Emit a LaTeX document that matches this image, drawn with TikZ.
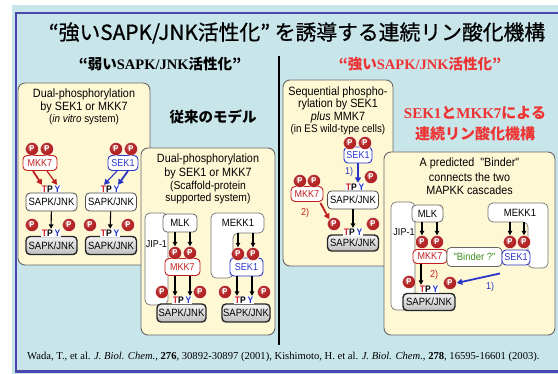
\documentclass[tikz,border=0pt]{standalone}
\usepackage{fontspec}
\usetikzlibrary{arrows.meta,shadings}
\setmainfont{Liberation Sans}
\newfontfamily\nsans[FakeStretch=0.9]{Liberation Sans}
\newfontfamily\cjk{Noto Sans CJK JP}
\newfontfamily\cjkt[FakeBold=0.8]{Noto Sans CJK JP}
\newfontfamily\tms{Liberation Serif}
\definecolor{bgblue}{HTML}{C8E5EA}
\definecolor{framec}{HTML}{4A48B0}
\definecolor{cream}{HTML}{FFF8D5}
\definecolor{mred}{HTML}{C01E1E}
\definecolor{sblue}{HTML}{2A35C8}
\definecolor{pred}{HTML}{B01818}
\definecolor{tred}{HTML}{D42020}
\definecolor{tblue}{HTML}{2535C0}
\definecolor{bgreen}{HTML}{3C8C1C}
\definecolor{rtext}{HTML}{EE3333}
\pgfdeclareradialshading{pballshade}{\pgfpoint{-9bp}{9bp}}{color(0bp)=(pred!35!white); color(12bp)=(pred!90!white); color(30bp)=(pred); color(50bp)=(pred!80!black)}
\newcommand{\TPYtext}{\textcolor{tred}{T}P\hspace{1.8pt}\textcolor{tblue}{Y}}
\tikzset{
  panel/.style={draw=black!60, line width=0.9pt, fill=cream, rounded corners=7pt},
  desc/.style={font=\nsans\fontsize{12}{13}\selectfont, inner sep=0pt},
  descs/.style={font=\nsans\fontsize{11}{12}\selectfont, inner sep=0pt},
  kbox/.style={rounded corners=4pt, fill=white, font=\nsans\fontsize{10}{11}\selectfont, inner sep=0pt, minimum height=15pt, line width=0.9pt},
  mkk/.style={kbox, draw=mred, text=mred},
  sek/.style={kbox, draw=sblue, text=sblue},
  sapk/.style={kbox, draw=black!70, line width=0.8pt, minimum width=51pt, minimum height=18pt, font=\nsans\fontsize{10.5}{11}\selectfont},
  sapkp/.style={sapk, draw=black!85, line width=1.4pt, top color=gray!10, bottom color=gray!50},
  wbox/.style={kbox, draw=black!60, text=black, line width=0.8pt, font=\nsans\fontsize{10.5}{11}\selectfont},
  scaf/.style={draw=black!55, line width=0.7pt, fill=white, rounded corners=5pt},
  pball/.style={circle, minimum size=13pt, inner sep=0pt, shading=pballshade, draw=white, line width=0.4pt, text=white, font=\nsans\bfseries\fontsize{8.5}{8.5}\selectfont},
  tpy/.style={fill=white, inner sep=0.7pt, font=\nsans\bfseries\fontsize{9.5}{9.5}\selectfont},
  barr/.style={-{Triangle[length=4.5pt,width=4.5pt]}, line width=1.1pt, draw=black},
  rarr/.style={-{Triangle[length=5.5pt,width=6pt]}, line width=1.8pt, draw=mred},
  barrb/.style={-{Triangle[length=5.5pt,width=6pt]}, line width=1.5pt, draw=sblue},
  lab/.style={font=\nsans\fontsize{10}{10}\selectfont, inner sep=0pt},
}
\begin{document}
\begin{tikzpicture}[x=1pt,y=-1pt]
\useasboundingbox (0,0) rectangle (558,374);
\fill[white] (0,0) rectangle (558,374);
\fill[bgblue] (12,5) rectangle (558,374);
\draw[framec, line width=2.5pt] (565,13) -- (16,13) -- (16,371.5) -- (565,371.5);

% titles
\node[font=\cjkt\fontsize{20.8}{22}\selectfont, inner sep=0pt] (title) at (297,33) {“強いSAPK/JNK活性化” を誘導する連続リン酸化機構};
\node[font=\fontsize{14.5}{16}\selectfont, inner sep=0pt] (subl) at (160,64) {\cjk\bfseries “弱い{\tms\bfseries SAPK/JNK}活性化”};
\node[font=\fontsize{14.5}{16}\selectfont, inner sep=0pt, text=rtext] (subr) at (420,64) {\cjk\bfseries “強い{\tms\bfseries SAPK/JNK}活性化”};
\draw[line width=2pt] (279,56) -- (279,345);

% ---------- panel 1
\draw[panel] (18,83) rectangle (150,265);
\node[desc] (d1a) at (84,94) {Dual-phosphorylation};
\node[desc] (d1b) at (84,107) {by SEK1 or MKK7};
\node[descs] (d1c) at (84,120) {(\textit{in vitro} system)};
\node[mkk, minimum width=34pt] (m1) at (40,163) {MKK7};
\node[pball] (p1a) at (32,149) {P};
\node[pball] (p1b) at (47,149) {P};
\node[sek, minimum width=30pt] (s1) at (123,163) {SEK1};
\node[pball] (p1c) at (116,149) {P};
\node[pball] (p1d) at (131,149) {P};
\node[tpy] (t1a) at (51,189) {\TPYtext};
\node[tpy] (t1b) at (110,189) {\TPYtext};
\node[sapk] (j1a) at (51.5,202) {SAPK/JNK};
\node[sapk] (j1b) at (111,202) {SAPK/JNK};
\node[sapkp] (g1a) at (51.5,245.5) {SAPK/JNK};
\node[sapkp] (g1b) at (111,245.5) {SAPK/JNK};
\node[tpy] (t1c) at (51,233) {\TPYtext};
\node[tpy] (t1d) at (110,233) {\TPYtext};
\node[pball] (p1e) at (32,225) {P};
\node[pball] (p1f) at (69,225) {P};
\node[pball] (p1g) at (90,225) {P};
\node[pball] (p1h) at (128,225) {P};
\draw[rarr] ([xshift=-7pt]m1.south) -- ([xshift=-9pt]t1a.north);
\draw[rarr, line width=1.2pt] ([xshift=7pt]m1.south) -- ([xshift=6pt]t1a.north);
\draw[barrb, line width=1.1pt] ([xshift=-6pt]s1.south) -- ([xshift=-6pt]t1b.north);
\draw[barrb, line width=1.8pt] ([xshift=5pt]s1.south) -- ([xshift=8pt]t1b.north);
\draw[barr] (j1a) -- (t1c);
\draw[barr] (j1b) -- (t1d);

\node[font=\cjk\bfseries\fontsize{14.5}{16}\selectfont, inner sep=0pt] (model) at (213,117) {従来のモデル};

% ---------- panel 2
\draw[panel] (141,148) rectangle (275,335);
\node[desc] (d2a) at (208,159) {Dual-phosphorylation};
\node[desc] (d2b) at (208,173) {by SEK1 or MKK7};
\node[font=\nsans\fontsize{11.5}{12}\selectfont, inner sep=0pt] (d2c) at (208,187) {(Scaffold-protein};
\node[font=\nsans\fontsize{11.5}{12}\selectfont, inner sep=0pt] (d2d) at (208,199) {supported system)};
\draw[scaf] (145,213) rectangle (168,305);
\node[lab] (jip1) at (156.5,244) {JIP-1};
\node[wbox, minimum width=34pt, minimum height=18pt] (mlk1) at (180,223) {MLK};
\draw[scaf] (211,213) -- (264,213) -- (264,233) -- (233,233) -- (233,278) -- (211,278) -- cycle;
\node[font=\nsans\fontsize{10.5}{11}\selectfont, inner sep=0pt] (mekk1) at (238,223) {MEKK1};
\coordinate (mk1a) at (238,233);
\coordinate (mk1b) at (253,233);
\node[mkk, minimum width=35pt, minimum height=17pt] (m2) at (182.5,267) {MKK7};
\node[pball] (p2a) at (175,253) {P};
\node[pball] (p2b) at (190,253) {P};
\node[sek, minimum width=33pt, minimum height=18pt] (s2) at (246.5,267) {SEK1};
\node[pball] (p2c) at (238,254) {P};
\node[pball] (p2d) at (253,254) {P};
\node[sapkp, minimum width=49pt] (g2a) at (181.5,313) {SAPK/JNK};
\node[sapkp, minimum width=48pt] (g2b) at (246,313) {SAPK/JNK};
\node[tpy] (t2a) at (182,300) {\TPYtext};
\node[tpy] (t2b) at (244,300) {\TPYtext};
\node[pball] (p2e) at (162,292) {P};
\node[pball] (p2f) at (200,292) {P};
\node[pball] (p2g) at (225,292) {P};
\node[pball] (p2h) at (264,292) {P};
\draw[barr] (mlk1.south -| p2a) -- (p2a.north);
\draw[barr] (mlk1.south -| p2b) -- (p2b.north);
\draw[barr] (mk1a) -- (p2c.north);
\draw[barr] (mk1b) -- (p2d.north);
\draw[barr, line width=1.8pt] ([xshift=-7.5pt]m2.south) -- ([xshift=-7pt]t2a.north);
\draw[barr] ([xshift=7.5pt]m2.south) -- ([xshift=8pt]t2a.north);
\draw[barr] ([xshift=-9.5pt]s2.south) -- ([xshift=-7pt]t2b.north);
\draw[barr, line width=1.8pt] ([xshift=5.5pt]s2.south) -- ([xshift=8pt]t2b.north);

% ---------- panel 3
\draw[panel] (283,80) rectangle (393,266);
\node[desc] (d3a) at (338,92) {Sequential phospho-};
\node[desc] (d3b) at (338,104.5) {rylation by SEK1};
\node[desc] (d3c) at (338,117) {\textit{plus} MMK7};
\node[descs] (d3d) at (338,130) {(in ES wild-type cells)};
\node[sek, minimum width=28pt, minimum height=16pt] (s3) at (358,155) {SEK1};
\node[pball] (p3a) at (350,143) {P};
\node[pball] (p3b) at (365,143) {P};
\node[mkk, minimum width=32pt] (m3) at (307,194) {MKK7};
\node[pball] (p3c) at (300,181) {P};
\node[pball] (p3d) at (314,181) {P};
\node[tpy] (t3a) at (355,187) {\TPYtext};
\node[sapk] (j3) at (353,200) {SAPK/JNK};
\node[pball] (p3e) at (371,177) {P};
\node[sapkp, minimum height=16pt] (g3) at (353,243) {SAPK/JNK};
\node[tpy] (t3b) at (353,232) {\TPYtext};
\node[pball] (p3f) at (334,224) {P};
\node[pball] (p3g) at (373,224) {P};
\draw[barrb, line width=2pt] (s3.south) -- (s3.south |- t3a.north);
\node[lab, text=sblue] (l31) at (349,172) {1)};
\draw[rarr] ([xshift=-3pt,yshift=-1pt]m3.south east) -- (p3f.north west);
\node[lab, text=mred] (l32) at (305,213) {2)};
\draw[barr] (j3) -- (t3b);

\node[font=\fontsize{15}{17}\selectfont, text=rtext, inner sep=0pt] (rt1) at (475,113) {\cjk\bfseries {\tms\bfseries SEK1}と{\tms\bfseries MKK7}による};
\node[font=\fontsize{15}{17}\selectfont, text=rtext, inner sep=0pt] (rt2) at (475,134) {\cjk\bfseries 連続リン酸化機構};

% ---------- panel 4
\draw[panel] (384,152) rectangle (555,335);
\node[desc] (d4a) at (469.5,163) {A predicted \ "Binder"};
\node[desc] (d4b) at (469.5,177) {connects the two};
\node[desc] (d4c) at (469.5,190) {MAPKK cascades};
\draw[scaf] (391,202) rectangle (415,310);
\node[lab] (jip2) at (404,232) {JIP-1};
\node[wbox, minimum width=31pt, minimum height=17pt] (mlk2) at (427.5,213.5) {MLK};
\draw[scaf] (488,203) -- (548,203) -- (548,268) -- (528,268) -- (528,222) -- (488,222) -- cycle;
\node[font=\nsans\fontsize{10.5}{11}\selectfont, inner sep=0pt] (mekk2) at (520,213) {MEKK1};
\coordinate (mk2a) at (510,222);
\coordinate (mk2b) at (524,222);
\node[mkk, minimum width=34pt, minimum height=14pt] (m4) at (430,256.5) {MKK7};
\node[wbox, minimum width=55pt, minimum height=19pt, text=bgreen, font=\nsans\fontsize{10.5}{11}\selectfont] (bd) at (474.5,257) {"Binder ?"};
\node[sek, minimum width=28pt] (s4) at (516,257.5) {SEK1};
\node[pball] (p4a) at (422,242) {P};
\node[pball] (p4b) at (437,242) {P};
\node[pball] (p4c) at (510,242) {P};
\node[pball] (p4d) at (524,242) {P};
\node[sapkp, minimum width=52pt, minimum height=17pt] (g4) at (429,302) {SAPK/JNK};
\node[tpy] (t4) at (429,289) {\TPYtext};
\node[pball] (p4e) at (409,282) {P};
\node[pball] (p4f) at (450,283) {P};
\draw[barr] (mlk2.south -| p4a) -- (p4a.north);
\draw[barr] (mlk2.south -| p4b) -- (p4b.north);
\draw[barr] (mk2a) -- (p4c.north);
\draw[barr] (mk2b) -- (p4d.north);
\draw[barr, line width=1.8pt] ([xshift=-9pt]m4.south) -- ([xshift=-8pt]t4.north);
\node[lab, text=mred] (l42) at (434,275) {2)};
\draw[barrb, line width=1.8pt] ([xshift=-16pt,yshift=-8pt]s4.south) -- (p4f.east);
\node[lab, text=sblue] (l41) at (490,287) {1)};

% citation
\node[font=\tms\fontsize{10.6}{11}\selectfont, inner sep=0pt, anchor=west] (cite) at (27,357) {Wada, T., et al. \textit{J. Biol. Chem.}, \textbf{276}, 30892-30897 (2001), Kishimoto, H. et al. \textit{J. Biol. Chem.}, \textbf{278}, 16595-16601 (2003).};
\end{tikzpicture}
\end{document}
